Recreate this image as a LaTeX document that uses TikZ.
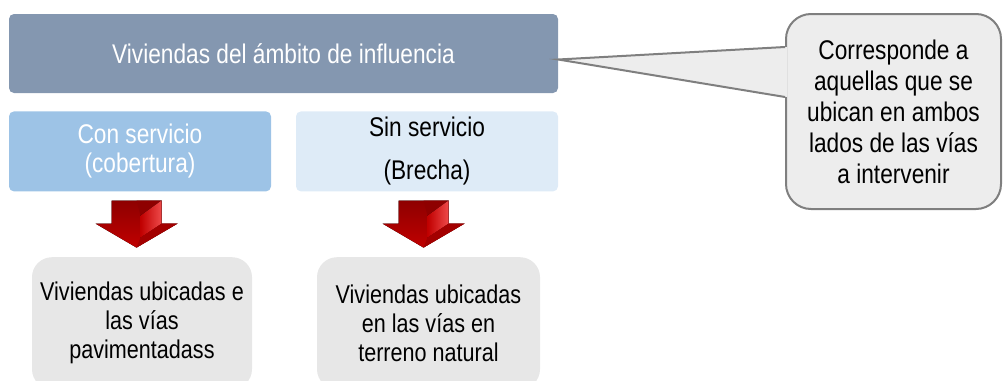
\documentclass[tikz,border=0pt]{standalone}
\usepackage{fontspec}
\setmainfont{Liberation Sans}[FakeStretch=0.84]
\usetikzlibrary{positioning}
\definecolor{titulofill}{HTML}{8497B0}
\definecolor{confill}{HTML}{9DC3E6}
\definecolor{sinfill}{HTML}{DEEBF7}
\definecolor{grisfill}{HTML}{E7E7E7}
\definecolor{notafill}{HTML}{EDEDED}
\definecolor{notaborde}{HTML}{7F7F7F}
\definecolor{rojooscuro}{HTML}{8E0000}
\definecolor{rojo}{HTML}{C00000}
\definecolor{rojoclaro}{HTML}{EE4A4A}
\tikzset{
x=1pt, y=-1pt,
caja/.style={rounded corners=5pt, inner sep=0pt, align=center,
  font=\fontsize{27}{29}\selectfont},
titulo/.style={caja, fill=titulofill, text=white, minimum width=549pt, minimum height=79pt},
grupo/.style={caja, minimum width=262pt, minimum height=80pt},
resultado/.style={caja, rounded corners=20pt, fill=grisfill, minimum height=132pt,
  font=\fontsize{25.7}{29}\selectfont},
nota/.style={rounded corners=25pt, fill=notafill, draw=notaborde, line width=2pt,
  minimum width=215pt, minimum height=195pt, align=center,
  font=\fontsize{27}{31}\selectfont},
}

\begin{document}
\begin{tikzpicture}
    \useasboundingbox (0,0) rectangle (1003,380);
    \clip (0,0) rectangle (1003,380);

    %top
    \node[titulo] (amb) at (283.5,53.5) {Viviendas del ámbito de influencia};

    %groups
    \node[grupo,fill=confill,text=white,below=18pt of amb.south west,anchor=north west] (con)
        {Con servicio\\(cobertura)};
    \node[grupo,fill=sinfill,below=18pt of amb.south east,anchor=north east] (sin)
        {Sin servicio\\[14pt](Brecha)};

    %results
    \node[resultado,minimum width=220pt,anchor=north] (pav) at (142,257)
        {Viviendas ubicadas e\\las vías\\pavimentadass};
    \node[resultado,minimum width=223pt,anchor=north] (nat) at (428.5,257)
        {Viviendas ubicadas\\en las vías en\\terreno natural};

    %callout
    \node[nota] (obs) at (893.5,111.5)
        {Corresponde a\\aquellas que se\\ubican en ambos\\lados de las vías\\a intervenir};
    \coordinate (punta) at ([yshift=-6pt]amb.east);
    \fill[notafill] ([shift={(2,34)}]obs.north west) -- (punta) -- ([shift={(2,84)}]obs.north west) -- cycle;
    \draw[notaborde,line width=2pt,line join=miter] ([shift={(0,34)}]obs.north west) -- (punta)
        -- ([shift={(0,84)}]obs.north west);

    %red arrows
    \foreach \caja in {con,sin}{
      \begin{scope}[shift={(\caja.south)},xshift=-3.5pt]
        \fill[top color=rojooscuro,bottom color=rojo]
          (-25,9) -- (25,9) -- (25,32) -- (41,32) -- (0,56) -- (-41,32) -- (-25,32) -- cycle;
        \fill[rojooscuro] (0,9) -- (25,9) -- (4,24) -- cycle;
        \fill[left color=rojo,right color=rojoclaro] (4,24) -- (25,9) -- (25,32) -- (4,46) -- cycle;
        \fill[rojo!85!black] (4,46) -- (25,32) -- (41,32) -- (0,56) -- cycle;
      \end{scope}
    }
\end{tikzpicture}
\end{document}
